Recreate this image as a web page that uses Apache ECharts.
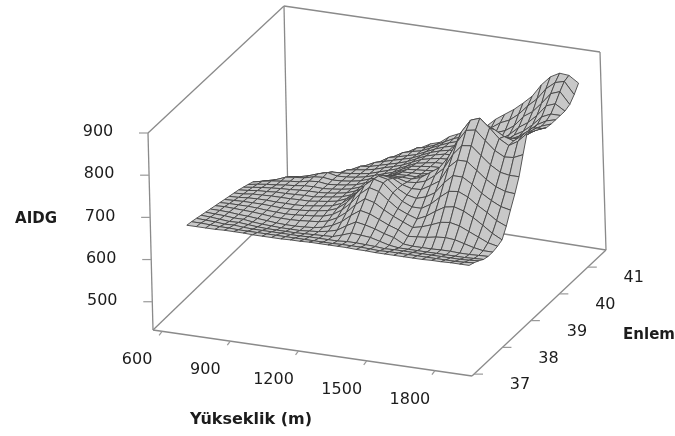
<!DOCTYPE html>
<html><head><meta charset="utf-8">
<style>html,body{margin:0;padding:0;background:#fff}#c{width:675px;height:436px;filter:blur(0.45px)}</style>
<script src="https://cdn.jsdelivr.net/npm/echarts@6/dist/echarts.min.js"></script>
</head><body><div id="c"></div>
<script>
const altitudeTicks=[600,900,1200,1500,1800];
const latitudeTicks=[37,38,39,40,41];
const aidgTicks=[500,600,700,800,900];
const altitudeRange=[560,1963], latitudeRange=[36.93,41.64], aidgRange=[433,900];
const altitudes=[680,722,763,805,846,888,930,971,1013,1054,1096,1138,1179,1221,1262,1304,1346,1387,1429,1470,1512,1554,1595,1637,1678,1720,1762,1803,1845,1886,1928];
const latitudes=[37.25,37.41,37.58,37.74,37.90,38.06,38.23,38.39,38.55,38.71,38.88,39.04,39.20,39.36,39.53,39.69,39.85,40.01,40.18,40.34,40.50,40.66,40.83,40.99,41.15];
// AIDG by altitude (outer) and latitude (inner)
const aidg=[
[670,668,665,662,659,656,653,650,647,644,641,638,634,630,625,615,600,585,570,555,540,527,515,505,495],
[670,668,664,661,658,656,654,651,648,645,642,640,637,634,630,621,604,587,572,557,542,530,518,508,500],
[670,667,663,659,657,655,653,651,649,647,645,643,640,637,634,627,612,595,580,565,550,535,523,513,505],
[670,666,661,657,655,653,652,651,649,648,646,644,642,639,637,636,627,608,590,574,558,543,530,520,512],
[671,666,662,658,655,652,651,650,649,648,647,646,644,642,640,639,630,612,594,578,562,547,534,524,516],
[671,665,660,656,652,650,649,648,648,647,647,646,645,644,642,641,636,622,602,586,570,555,542,532,524],
[671,665,659,654,650,648,647,647,647,647,647,647,647,647,647,647,644,635,618,598,582,566,552,542,534],
[670,665,659,653,649,646,646,646,647,647,648,648,648,648,649,649,650,641,626,608,592,576,562,552,544],
[670,665,659,653,648,645,646,647,648,648,648,648,648,647,646,646,645,642,638,629,612,590,576,564,554],
[670,665,659,653,648,645,647,649,650,651,651,651,650,649,648,647,646,644,642,640,631,612,592,580,570],
[670,665,659,653,648,646,649,651,653,654,654,654,653,652,651,650,649,647,645,643,642,633,614,596,586],
[671,665,659,654,650,648,651,654,657,658,658,658,657,656,655,654,653,651,650,649,648,647,638,618,604],
[671,665,660,655,652,652,656,661,665,667,667,666,665,664,663,662,660,658,657,655,654,652,651,642,622],
[672,665,660,656,656,660,667,675,682,684,682,678,675,672,670,668,667,665,663,661,660,658,657,655,646],
[672,665,660,657,662,672,683,695,705,706,700,692,687,683,680,677,674,672,670,668,666,664,662,660,658],
[672,665,660,664,676,690,705,720,730,728,718,708,700,695,691,688,685,682,680,678,676,674,672,669,665],
[672,666,662,672,688,705,722,738,748,745,735,724,714,707,702,698,695,692,690,688,686,684,682,680,682],
[672,666,662,670,684,700,716,732,742,740,732,722,714,708,703,700,698,696,695,694,693,692,691,691,692],
[671,666,661,668,678,690,702,714,722,722,720,716,713,708,704,702,701,700,699,699,698,698,698,699,700],
[671,665,660,662,670,680,690,698,705,710,714,718,720,715,708,704,702,701,700,700,700,700,702,704,708],
[670,664,658,656,664,672,680,688,695,705,715,725,735,725,715,708,704,703,703,703,704,706,709,714,720],
[670,665,659,653,652,660,670,680,695,712,728,742,750,745,735,722,714,708,706,705,706,712,720,730,740],
[670,665,659,653,650,662,675,690,708,725,742,762,778,785,755,735,722,715,712,711,712,720,732,745,755],
[670,665,659,653,650,664,683,705,728,752,778,798,818,832,795,768,750,738,730,727,726,730,740,755,770],
[670,665,659,653,650,668,692,718,745,772,798,822,848,862,830,800,775,757,748,742,740,745,755,772,788],
[670,665,659,653,651,670,695,722,748,772,798,825,852,870,845,815,790,772,762,757,757,765,780,795,808],
[671,665,659,653,651,668,690,715,738,758,780,805,830,850,835,812,795,778,770,768,770,780,795,815,838],
[671,665,659,653,650,662,680,703,722,740,762,786,810,828,822,808,795,785,782,783,788,800,818,842,860],
[672,665,659,653,650,656,670,688,708,726,748,772,798,815,815,810,804,800,800,802,810,826,844,860,872],
[672,666,660,654,651,652,660,672,692,715,740,768,800,828,832,828,820,814,812,814,820,834,852,866,870],
[672,668,662,655,652,652,655,660,682,710,738,768,810,850,852,842,830,822,820,820,820,820,825,838,855]
];
const xTitle='Yükseklik (m)', yTitle='Enlem', zTitle='AIDG';

// Box corners of the drawing (floor and roof), used only by the projection
const floorBox={ll:[153,330],lr:[472,376],br:[606,250],bl:[288,200]};
const roofBox={ll:[148,133],lr:[464,179],br:[600,52],bl:[284,6]};
function bil(q,u,v){const f=k=>(1-v)*((1-u)*q.ll[k]+u*q.lr[k])+v*((1-u)*q.bl[k]+u*q.br[k]);return [f(0),f(1)];}
function uvw(alt,lat,z){return [(alt-altitudeRange[0])/(altitudeRange[1]-altitudeRange[0]),(lat-latitudeRange[0])/(latitudeRange[1]-latitudeRange[0]),(z-aidgRange[0])/(aidgRange[1]-aidgRange[0])];}
function proj(u,v,w){const a=bil(floorBox,u,v),b=bil(roofBox,u,v);return [a[0]+(b[0]-a[0])*w,a[1]+(b[1]-a[1])*w];}
function p3(alt,lat,z){const t=uvw(alt,lat,z);return proj(t[0],t[1],t[2]);}

const cells=[];
for(let j=latitudes.length-2;j>=0;j--)for(let i=0;i<altitudes.length-1;i++)cells.push([i,j]);
const edges=[[0,0,0,1,0,0],[1,0,0,1,1,0],[1,1,0,0,1,0],[0,1,0,0,0,0],[0,0,0,0,0,1],[0,1,0,0,1,1],[1,1,0,1,1,1],[0,0,1,0,1,1],[0,1,1,1,1,1]];

const marks=[];
altitudeTicks.forEach(a=>marks.push({k:'x',v:a,t:String(a)}));
latitudeTicks.forEach(a=>marks.push({k:'y',v:a,t:String(a)}));
aidgTicks.forEach(a=>marks.push({k:'z',v:a,t:String(a)}));

function line(api,a,b,st){const p=api.coord(a),q=api.coord(b);return {type:'line',shape:{x1:p[0],y1:p[1],x2:q[0],y2:q[1]},style:st,silent:true};}
const boxStyle={stroke:'#8a8a8a',lineWidth:1.3,fill:null};
const tickStyle={stroke:'#999',lineWidth:1.2,fill:null};

const chart=echarts.init(document.getElementById('c'));
chart.setOption({
  animation:false,backgroundColor:'#fff',
  grid:{left:0,right:0,top:0,bottom:0},
  xAxis:{type:'value',min:0,max:675,show:false},
  yAxis:{type:'value',min:0,max:436,inverse:true,show:false},
  series:[
   {type:'custom',coordinateSystem:'cartesian2d',silent:true,data:edges,clip:false,
    renderItem:(p,api)=>{const d=edges[p.dataIndex];
      return line(api,proj(d[0],d[1],d[2]),proj(d[3],d[4],d[5]),boxStyle);}},
   {type:'custom',coordinateSystem:'cartesian2d',silent:true,data:marks.map((m,i)=>[i]),clip:false,
    renderItem:(p,api)=>{const m=marks[p.dataIndex];let a,end,lab;
      if(m.k==='x'){const t=uvw(m.v,latitudeRange[0],aidgRange[0]);a=proj(t[0],0,0);end=[a[0]-3,a[1]+4];lab=[a[0]-25,a[1]+29];}
      else if(m.k==='y'){const t=uvw(altitudeRange[0],m.v,aidgRange[0]);a=proj(1,t[1],0);end=[a[0]+9,a[1]];lab=[a[0]+46,a[1]+11];}
      else{const t=uvw(altitudeRange[0],latitudeRange[0],m.v);a=proj(0,0,t[2]);end=[a[0]-9,a[1]];lab=[a[0]-50,a[1]-1];}
      const c=api.coord(lab);
      return {type:'group',children:[line(api,a,end,tickStyle),
        {type:'text',x:c[0],y:c[1],style:{text:m.t,fill:'#1c1c1c',font:'16px "DejaVu Sans"',textAlign:'center',textVerticalAlign:'middle'},silent:true}]};}},
   {type:'custom',coordinateSystem:'cartesian2d',silent:true,clip:false,data:[[36,219,zTitle],[251,420,xTitle],[649,335,yTitle]],
    renderItem:(p,api)=>{const c=api.coord([api.value(0),api.value(1)]);
      return {type:'text',x:c[0],y:c[1],style:{text:[zTitle,xTitle,yTitle][p.dataIndex],fill:'#1c1c1c',font:(p.dataIndex===1?'bold 16px':'bold 15px')+' "DejaVu Sans"',textAlign:'center',textVerticalAlign:'middle'},silent:true};}},
   {type:'custom',coordinateSystem:'cartesian2d',silent:true,clip:false,progressive:0,data:cells,
    renderItem:(p,api)=>{const c=cells[p.dataIndex],i=c[0],j=c[1];
      const pts=[[i,j],[i+1,j],[i+1,j+1],[i,j+1]].map(q=>api.coord(p3(altitudes[q[0]],latitudes[q[1]],aidg[q[0]][q[1]])));
      return {type:'polygon',shape:{points:pts},style:{fill:'#c8c8c8',stroke:'#454545',lineWidth:0.9},silent:true};}}
  ]
});
</script></body></html>
